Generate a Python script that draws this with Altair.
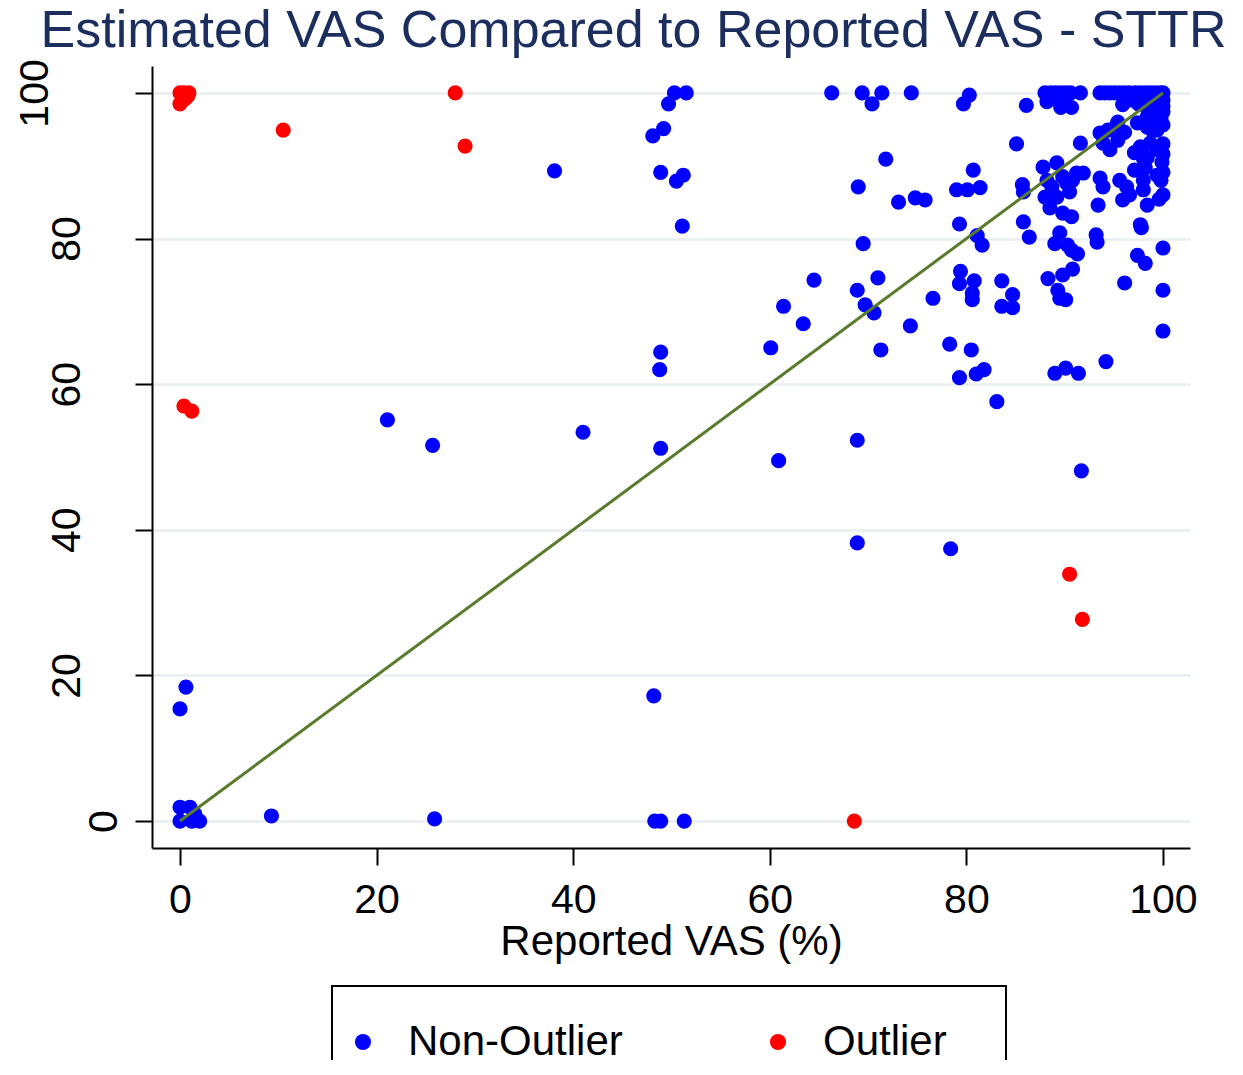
import altair as alt
import pandas as pd

# Non-outlier points (Reported VAS, Estimated VAS)
non_x = [0, 1.2, 2, 0, 1.0, 1.5, 9.3, 25.9, 48.3, 48.9, 51.3,
         0, 0.6, 48.2,
         21.1, 25.7, 41.0, 48.9,
         38.1, 48.1, 49.2, 49.7, 50.3, 51.5, 48.9, 50.5, 51.2, 51.1, 48.9, 48.8,
         60.9, 60.1, 61.4, 63.4, 64.5,
         66.3, 69.4, 70.4, 71.4, 74.4,
         69.0, 71.8, 69.5, 68.9, 69.7, 70.6, 71.0, 71.3, 68.9, 68.9, 78.4,
         73.1, 74.8, 75.8, 74.3, 76.6, 78.3, 79.3, 80.5, 81.0, 81.8, 83.1, 91.7, 94.2, 100, 100, 100,
         80.3, 79.7, 86.1, 85.1, 80.7, 79.0, 80.1, 81.4, 85.7, 85.8, 79.3, 81.1, 81.6, 85.8, 86.4,
         79.4, 79.3, 80.8, 80.6, 80.6, 83.6, 84.7, 83.6, 84.7,
         89.5, 89.0, 90.3, 90.7, 91.3, 93.2, 93.3, 97.8, 97.4, 98.2, 88.3, 89.8, 90.8, 89.3, 89.5, 90.1,
         96.1, 89.0, 90.1, 91.4,
         88.6, 89.6, 90.6, 91.6, 88.2, 89.6, 90.7,
         93.6, 94.6, 95.6, 96.6, 97.7, 98.7, 99.7, 95.9, 98.0, 99.4, 100, 100, 99.8,
         91.6, 93.6, 94.4, 95.3, 93.9, 94.6, 95.4, 95.9, 97.4, 98.4, 99.4, 100, 97.7, 98.7, 99.4,
         97.9, 98.4, 99.9, 97.1, 98.2, 100, 99.4,
         87.8, 89.2, 89.8, 91.2, 91.9, 88.2, 88.7, 90.2, 90.8, 88.0, 89.2, 90.5, 88.5, 89.8, 90.7,
         93.6, 93.9, 93.4, 95.6, 96.3, 95.9, 96.6, 98.0, 98.0, 100, 98.4, 97.7,
         98.4, 99.4, 98.9, 95.4, 96.1, 97.1, 98.0,
         88.0, 89.1, 90.1, 89.0, 90.0,
         94.1, 95.1, 96.1, 97.2, 98.2, 99.2, 100, 96.5, 97.5, 98.5, 99.0, 100, 97.0,
         100, 100, 99.8, 99.6]
non_y = [0, 0, 0, 1.9, 1.9, 1.0, 0.7, 0.3, 0, 0, 0,
         15.4, 18.4, 17.2,
         55.1, 51.6, 53.4, 51.2,
         89.3, 94.1, 95.1, 98.5, 100, 100, 89.1, 87.9, 88.7, 81.7, 64.4, 62.0,
         49.5, 65.0, 70.7, 68.3, 74.3,
         100, 100, 98.5, 100, 100,
         87.1, 90.9, 79.3, 72.9, 70.9, 69.8, 74.6, 64.7, 52.3, 38.2, 37.4,
         85.0, 85.6, 85.3, 68.0, 71.8, 65.5, 60.9, 64.7, 61.4, 62.0, 57.6, 48.1, 63.1, 67.3, 72.9, 78.7,
         99.7, 98.5, 98.3, 93.0, 89.4, 86.7, 86.7, 87.0, 87.4, 86.4, 82.0, 80.4, 79.1, 82.3, 80.2,
         75.5, 73.8, 74.2, 72.5, 71.6, 74.2, 72.3, 70.7, 70.5,
         80.8, 79.3, 79.1, 78.4, 77.9, 80.5, 79.5, 81.5, 77.7, 76.6, 74.5, 75.0, 75.8, 72.9, 71.8, 71.6,
         73.9, 61.5, 62.2, 61.5,
         100, 100, 100, 100, 98.8, 98.0, 98.0,
         100, 100, 100, 100, 100, 100, 100, 98.4, 98.8, 98.1, 97.4, 99.0, 96.5,
         93.1, 94.5, 94.9, 95.6, 93.1, 92.2, 93.5, 94.5, 95.9, 95.3, 94.9, 95.6, 92.6, 93.1, 92.2,
         91.5, 91.1, 90.5, 89.4, 89.7, 89.1, 88.7,
         89.8, 90.4, 88.5, 89.0, 89.0, 88.0, 87.1, 87.6, 88.0, 85.7, 85.7, 86.4, 84.2, 83.5, 83.0,
         88.3, 87.1, 84.6, 88.0, 87.1, 85.3, 86.0, 88.0, 86.7, 86.0, 84.6, 81.9,
         96.7, 95.9, 94.9, 96.0, 94.6, 91.8, 91.0,
         100, 100, 100, 99.2, 98.8,
         100, 100, 100, 100, 100, 100, 100, 99.0, 98.5, 97.5, 99.0, 98.2, 99.5,
         93.0, 91.6, 88.0, 85.4]

# Outlier points
out_x = [0, 0.4, 0.9, 0, 0.5, 0.8, 10.5, 28.0, 29.0, 0.4, 1.2, 90.5, 91.8, 68.6]
out_y = [100, 100, 100, 98.5, 99.2, 99.6, 94.9, 100, 92.7, 57.0, 56.3, 33.9, 27.7, 0]

groups = ["Non-Outlier", "Outlier"]
colors = ["#0000ff", "#ff0000"]

line_x = [0, 100]
line_y = [0, 100]

ticks = [0, 20, 40, 60, 80, 100]

pts = pd.DataFrame({
    "x": non_x + out_x,
    "y": non_y + out_y,
    "g": [groups[0]] * len(non_x) + [groups[1]] * len(out_x),
})
ref = pd.DataFrame({"x": line_x, "y": line_y})

FONT = "Liberation Sans"
xscale = alt.Scale(domain=[-2.85, 102.75], nice=False, zero=False)
yscale = alt.Scale(domain=[-3.7, 103.7], nice=False, zero=False)

xaxis = alt.Axis(values=ticks, format="d", title="Reported VAS (%)", grid=False,
                 labelFontSize=41, titleFontSize=42, labelFont=FONT, titleFont=FONT,
                 titleFontWeight="normal", labelColor="black", titleColor="black",
                 tickSize=17, tickWidth=2, tickColor="black", domainColor="black",
                 domainWidth=2, labelPadding=15, titlePadding=1, labelFlush=False)
yaxis = alt.Axis(values=ticks, format="d", grid=True, gridColor="#e7eff1", gridWidth=2.5,
                 labelFontSize=41, labelFont=FONT, labelColor="black",
                 labelAngle=270, labelAlign="center", labelBaseline="middle",
                 labelPadding={"expr": "datum.value == 0 ? 31 : (datum.value == 100 ? 100 : 68)"},
                 tickSize=17, tickWidth=2, tickColor="black", domainColor="black",
                 domainWidth=2, labelFlush=False, labelOverlap=False)

# invisible spacer title that widens the legend frame
legend_spacer = "0" * 47

points = alt.Chart(pts).mark_circle(size=230, opacity=1).encode(
    x=alt.X("x:Q", scale=xscale, axis=xaxis),
    y=alt.Y("y:Q", scale=yscale, axis=yaxis, title=None),
    color=alt.Color("g:N", scale=alt.Scale(domain=groups, range=colors),
                    legend=alt.Legend(orient="none", legendX=180, legendY=920,
                                      direction="horizontal", title=legend_spacer,
                                      titleFontSize=25, titlePadding=0, titleLimit=2000,
                                      titleFont=FONT, titleFontWeight="normal",
                                      titleOpacity=0,
                                      padding=10, strokeColor="black",
                                      labelFontSize=42, labelFont=FONT, labelColor="black",
                                      labelOffset=24, columnPadding=134, labelLimit=500,
                                      symbolSize=260, symbolType="circle",
                                      symbolStrokeWidth=0, symbolOpacity=1)),
)

line = alt.Chart(ref).mark_line(color="#5a7a2c", strokeWidth=3).encode(
    x=alt.X("x:Q", scale=xscale),
    y=alt.Y("y:Q", scale=yscale),
)

chart = alt.layer(points, line).properties(
    width=1038, height=782,
    padding={"left": 144, "top": 58, "right": 45, "bottom": 212},
    autosize=alt.AutoSizeParams(type="none"),
    title=alt.TitleParams("Estimated VAS Compared to Reported VAS - STTR", fontSize=52,
                          font=FONT, fontWeight="normal", color="#1c2e5e",
                          anchor="middle", frame="group", dx=-37.5, offset=1),
).configure_view(strokeWidth=0).configure_legend(strokeWidth=2)

chart.save("out.html", embed_options={"renderer": "svg", "actions": False})
